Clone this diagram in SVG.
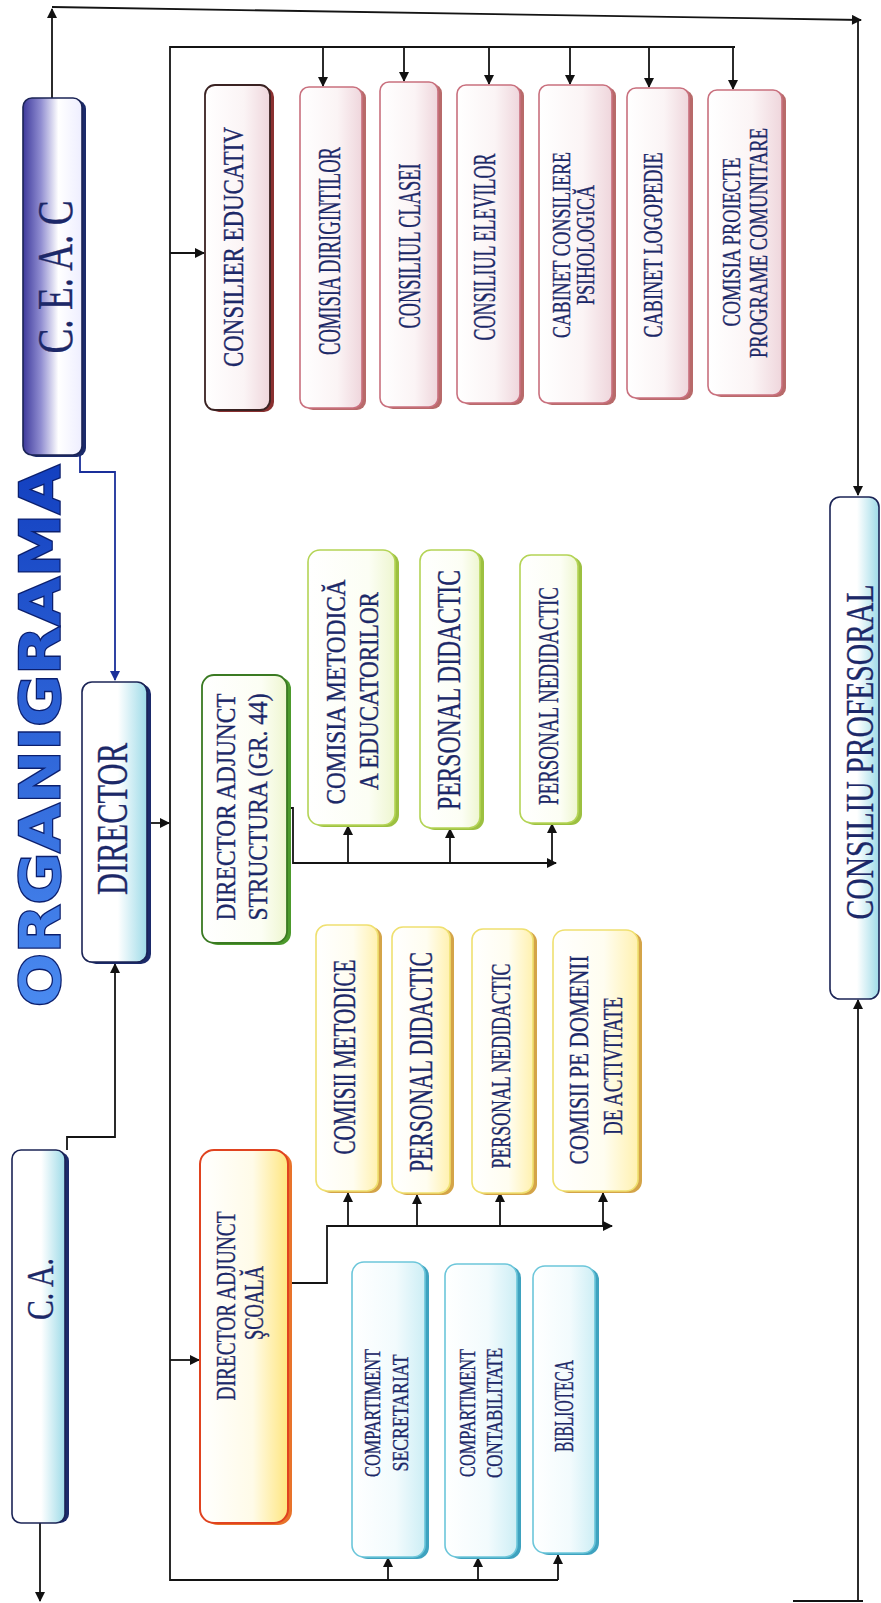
<svg xmlns="http://www.w3.org/2000/svg" width="881" height="1603" viewBox="0 0 881 1603">
<defs>
  <marker id="ah" viewBox="0 0 10 10" refX="9" refY="5" markerWidth="11" markerHeight="10" markerUnits="userSpaceOnUse" orient="auto-start-reverse">
    <path d="M0,0 L10,5 L0,10 z" fill="#111"/>
  </marker>
  <marker id="ahb" viewBox="0 0 10 10" refX="9" refY="5" markerWidth="11" markerHeight="10" markerUnits="userSpaceOnUse" orient="auto-start-reverse">
    <path d="M0,0 L10,5 L0,10 z" fill="#1a2f9a"/>
  </marker>
  <linearGradient id="gPurple" x1="0" y1="0" x2="1" y2="0">
    <stop offset="0" stop-color="#3e3a9c"/>
    <stop offset="0.3" stop-color="#8f8cd0"/>
    <stop offset="0.6" stop-color="#ffffff"/>
    <stop offset="1" stop-color="#eeeeff"/>
  </linearGradient>
  <linearGradient id="gCyan" x1="0" y1="0" x2="1" y2="0">
    <stop offset="0" stop-color="#ffffff"/>
    <stop offset="0.55" stop-color="#ffffff"/>
    <stop offset="1" stop-color="#9edbe8"/>
  </linearGradient>
  <linearGradient id="gPink" x1="0" y1="0" x2="1" y2="0">
    <stop offset="0" stop-color="#ffffff"/>
    <stop offset="0.6" stop-color="#fbf4f5"/>
    <stop offset="1" stop-color="#efd6dc"/>
  </linearGradient>
  <linearGradient id="gGreen" x1="0" y1="0" x2="1" y2="0">
    <stop offset="0" stop-color="#ffffff"/>
    <stop offset="0.7" stop-color="#fcfef4"/>
    <stop offset="1" stop-color="#eef6d0"/>
  </linearGradient>
  <linearGradient id="gYellow" x1="0" y1="0" x2="1" y2="0">
    <stop offset="0" stop-color="#ffffff"/>
    <stop offset="0.6" stop-color="#fffdf0"/>
    <stop offset="1" stop-color="#fff1b0"/>
  </linearGradient>
  <linearGradient id="gOrange" x1="0" y1="0" x2="1" y2="0">
    <stop offset="0" stop-color="#ffffff"/>
    <stop offset="0.6" stop-color="#fffbe8"/>
    <stop offset="1" stop-color="#ffe680"/>
  </linearGradient>
  <linearGradient id="gAqua" x1="0" y1="0" x2="1" y2="0">
    <stop offset="0" stop-color="#ffffff"/>
    <stop offset="0.6" stop-color="#f2fbfd"/>
    <stop offset="1" stop-color="#cdeef5"/>
  </linearGradient>
  <linearGradient id="gTitle" x1="0" y1="0" x2="1" y2="0">
    <stop offset="0" stop-color="#4a8af0"/>
    <stop offset="1" stop-color="#1340c0"/>
  </linearGradient>
</defs>
<style>
  .t { font-family: "Liberation Serif", "Times New Roman", serif; fill: #1c2868; stroke: #1c2868; stroke-width: 0.35; text-anchor: middle; }
  .sh { stroke: none; }
  .navy { stroke: #1b2456; stroke-width: 1.6; }
  .sh-navy { fill: #1b2a6a; }
  .ceac { fill: url(#gPurple); }
  .cyan { fill: url(#gCyan); }
  .pink { fill: url(#gPink); stroke: #c9707e; stroke-width: 1.6; }
  .sh-pink { fill: #b86a6a; }
  .edu { fill: url(#gPink); stroke: #3a2222; stroke-width: 1.8; }
  .sh-edu { fill: #8a3030; }
  .dgreen { fill: url(#gGreen); stroke: #3a7a22; stroke-width: 1.8; }
  .sh-dgreen { fill: #4c9a2c; }
  .lgreen { fill: url(#gGreen); stroke: #b4d456; stroke-width: 1.6; }
  .sh-lgreen { fill: #9cc040; }
  .orange { fill: url(#gOrange); stroke: #e0431f; stroke-width: 2; }
  .sh-orange { fill: #e8732a; }
  .yellow { fill: url(#gYellow); stroke: #efe070; stroke-width: 1.6; }
  .sh-yellow { fill: #d4a448; }
  .aqua { fill: url(#gAqua); stroke: #6cc6da; stroke-width: 1.6; }
  .sh-aqua { fill: #3ea2bf; }
  .title { font-family: "DejaVu Sans", "Liberation Sans", sans-serif; font-weight: bold; fill: url(#gTitle); stroke: #0b1f6e; stroke-width: 2.5; paint-order: stroke; text-anchor: middle; }
  .ln { fill: none; stroke: #141414; stroke-width: 1.8; }
  .lnb { fill: none; stroke: #1a2f9a; stroke-width: 1.8; }
</style>
<rect width="881" height="1603" fill="#ffffff"/>

<g id="title">
  <text class="title" transform="translate(59,736) rotate(-90)" font-size="56" textLength="542" lengthAdjust="spacingAndGlyphs">ORGANIGRAMA</text>
</g>

<g id="connectors">
  <path class="ln" d="M52,98 V9" marker-end="url(#ah)"/>
  <path class="ln" d="M52,7 L861,20" marker-end="url(#ah)"/>
  <path class="ln" d="M858,20 V495" marker-end="url(#ah)"/>
  <path class="ln" d="M735,47 H170 V1580 H558"/>
  <path class="ln" d="M323,47 V86" marker-end="url(#ah)"/>
  <path class="ln" d="M404,47 V81" marker-end="url(#ah)"/>
  <path class="ln" d="M489,47 V84" marker-end="url(#ah)"/>
  <path class="ln" d="M570,47 V84" marker-end="url(#ah)"/>
  <path class="ln" d="M649,47 V87" marker-end="url(#ah)"/>
  <path class="ln" d="M733,47 V89" marker-end="url(#ah)"/>
  <path class="ln" d="M170,253 H204" marker-end="url(#ah)"/>
  <path class="ln" d="M147,823 H169" marker-end="url(#ah)"/>
  <path class="ln" d="M280,808 H293 V863 H556" marker-end="url(#ah)"/>
  <path class="ln" d="M348,863 V826" marker-end="url(#ah)"/>
  <path class="ln" d="M450,863 V829" marker-end="url(#ah)"/>
  <path class="ln" d="M552,863 V824" marker-end="url(#ah)"/>
  <path class="ln" d="M170,1360 H199" marker-end="url(#ah)"/>
  <path class="ln" d="M290,1283 H327 V1226 H612" marker-end="url(#ah)"/>
  <path class="ln" d="M348,1226 V1193" marker-end="url(#ah)"/>
  <path class="ln" d="M417,1226 V1195" marker-end="url(#ah)"/>
  <path class="ln" d="M500,1226 V1193" marker-end="url(#ah)"/>
  <path class="ln" d="M603,1226 V1193" marker-end="url(#ah)"/>
  <path class="ln" d="M388,1580 V1558" marker-end="url(#ah)"/>
  <path class="ln" d="M478,1580 V1558" marker-end="url(#ah)"/>
  <path class="ln" d="M558,1580 V1555" marker-end="url(#ah)"/>
  <path class="ln" d="M67,1150 V1137 H115 V964" marker-end="url(#ah)"/>
  <path class="ln" d="M40,1523 V1601" marker-end="url(#ah)"/>
  <path class="ln" d="M858,1601 V1000" marker-end="url(#ah)"/>
  <path class="ln" d="M793,1601 H863"/>
  <path class="lnb" d="M80,263 V472 H115 V680" marker-start="url(#ahb)" marker-end="url(#ahb)"/>
</g>

<g id="ceac">
  <rect class="sh sh-navy" x="27" y="100" width="59" height="357" rx="9"/>
  <rect class="ceac navy" x="23" y="98" width="59" height="357" rx="9"/>
  <text class="t" transform="translate(72,277) rotate(-90)" font-size="50" textLength="153" lengthAdjust="spacingAndGlyphs">C. E. A. C</text>
</g>

<g id="director">
  <rect class="sh sh-navy" x="86" y="684" width="65" height="280" rx="10"/>
  <rect class="cyan navy" x="82" y="682" width="65" height="280" rx="10"/>
  <text class="t" transform="translate(127,819) rotate(-90)" font-size="44" textLength="152" lengthAdjust="spacingAndGlyphs">DIRECTOR</text>
</g>

<g id="ca">
  <rect class="sh sh-navy" x="16" y="1152" width="53" height="371" rx="9"/>
  <rect class="cyan navy" x="12" y="1150" width="53" height="373" rx="9"/>
  <text class="t" transform="translate(53,1289) rotate(-90)" font-size="38" textLength="62" lengthAdjust="spacingAndGlyphs">C. A.</text>
</g>

<g id="consiliu-profesoral">
  <rect class="cyan navy" x="830" y="497" width="49" height="502" rx="10"/>
  <text class="t" transform="translate(873,752) rotate(-90)" font-size="40" textLength="335" lengthAdjust="spacingAndGlyphs">CONSILIU PROFESORAL</text>
</g>

<g id="consilier-educativ">
  <rect class="sh sh-edu" x="209" y="87" width="65" height="325" rx="10"/>
  <rect class="edu" x="205" y="85" width="65" height="325" rx="10"/>
  <text class="t" transform="translate(243,247) rotate(-90)" font-size="30" textLength="240" lengthAdjust="spacingAndGlyphs">CONSILIER EDUCATIV</text>
</g>

<g id="comisia-dirigintilor">
  <rect class="sh sh-pink" x="304" y="89" width="62" height="321" rx="9"/>
  <rect class="pink" x="300" y="87" width="62" height="321" rx="9"/>
  <text class="t" transform="translate(340,251) rotate(-90)" font-size="32" textLength="208" lengthAdjust="spacingAndGlyphs">COMISIA DIRIGINTILOR</text>
</g>

<g id="consiliul-clasei">
  <rect class="sh sh-pink" x="384" y="84" width="58" height="325" rx="9"/>
  <rect class="pink" x="380" y="82" width="58" height="325" rx="9"/>
  <text class="t" transform="translate(420,246) rotate(-90)" font-size="32" textLength="165" lengthAdjust="spacingAndGlyphs">CONSILIUL CLASEI</text>
</g>

<g id="consiliul-elevilor">
  <rect class="sh sh-pink" x="461" y="87" width="63" height="318" rx="9"/>
  <rect class="pink" x="457" y="85" width="63" height="318" rx="9"/>
  <text class="t" transform="translate(495,247) rotate(-90)" font-size="32" textLength="187" lengthAdjust="spacingAndGlyphs">CONSILIUL ELEVILOR</text>
</g>

<g id="cabinet-consiliere">
  <rect class="sh sh-pink" x="543" y="87" width="73" height="318" rx="9"/>
  <rect class="pink" x="539" y="85" width="73" height="318" rx="9"/>
  <text class="t" transform="translate(570,245) rotate(-90)" font-size="25" textLength="186" lengthAdjust="spacingAndGlyphs">CABINET CONSILIERE</text>
  <text class="t" transform="translate(594,245) rotate(-90)" font-size="25" textLength="120" lengthAdjust="spacingAndGlyphs">PSIHOLOGICĂ</text>
</g>

<g id="cabinet-logopedie">
  <rect class="sh sh-pink" x="631" y="90" width="62" height="310" rx="9"/>
  <rect class="pink" x="627" y="88" width="62" height="310" rx="9"/>
  <text class="t" transform="translate(662,245) rotate(-90)" font-size="27" textLength="185" lengthAdjust="spacingAndGlyphs">CABINET LOGOPEDIE</text>
</g>

<g id="comisia-proiecte">
  <rect class="sh sh-pink" x="712" y="92" width="74" height="305" rx="9"/>
  <rect class="pink" x="708" y="90" width="74" height="305" rx="9"/>
  <text class="t" transform="translate(740,242) rotate(-90)" font-size="25" textLength="169" lengthAdjust="spacingAndGlyphs">COMISIA PROIECTE</text>
  <text class="t" transform="translate(767,243) rotate(-90)" font-size="25" textLength="230" lengthAdjust="spacingAndGlyphs">PROGRAME COMUNITARE</text>
</g>

<g id="dir-adj-structura">
  <rect class="sh sh-dgreen" x="206" y="677" width="85" height="268" rx="12"/>
  <rect class="dgreen" x="202" y="675" width="85" height="268" rx="12"/>
  <text class="t" transform="translate(235,807) rotate(-90)" font-size="27" textLength="227" lengthAdjust="spacingAndGlyphs">DIRECTOR ADJUNCT</text>
  <text class="t" transform="translate(267,807) rotate(-90)" font-size="27" textLength="227" lengthAdjust="spacingAndGlyphs">STRUCTURA (GR. 44)</text>
</g>

<g id="comisia-metodica">
  <rect class="sh sh-lgreen" x="312" y="552" width="87" height="275" rx="12"/>
  <rect class="lgreen" x="308" y="550" width="87" height="275" rx="12"/>
  <text class="t" transform="translate(345,692) rotate(-90)" font-size="27" textLength="225" lengthAdjust="spacingAndGlyphs">COMISIA METODICĂ</text>
  <text class="t" transform="translate(378,691) rotate(-90)" font-size="27" textLength="198" lengthAdjust="spacingAndGlyphs">A EDUCATORILOR</text>
</g>

<g id="personal-didactic-g">
  <rect class="sh sh-lgreen" x="424" y="552" width="60" height="278" rx="11"/>
  <rect class="lgreen" x="420" y="550" width="60" height="278" rx="11"/>
  <text class="t" transform="translate(460,690) rotate(-90)" font-size="33" textLength="240" lengthAdjust="spacingAndGlyphs">PERSONAL DIDACTIC</text>
</g>

<g id="personal-nedidactic-g">
  <rect class="sh sh-lgreen" x="524" y="557" width="58" height="268" rx="11"/>
  <rect class="lgreen" x="520" y="555" width="58" height="268" rx="11"/>
  <text class="t" transform="translate(558,696) rotate(-90)" font-size="29" textLength="218" lengthAdjust="spacingAndGlyphs">PERSONAL NEDIDACTIC</text>
</g>

<g id="dir-adj-scoala">
  <rect class="sh sh-orange" x="204" y="1152" width="88" height="373" rx="14"/>
  <rect class="orange" x="200" y="1150" width="88" height="373" rx="14"/>
  <text class="t" transform="translate(235,1306) rotate(-90)" font-size="27" textLength="189" lengthAdjust="spacingAndGlyphs">DIRECTOR ADJUNCT</text>
  <text class="t" transform="translate(263,1303) rotate(-90)" font-size="27" textLength="74" lengthAdjust="spacingAndGlyphs">ŞCOALĂ</text>
</g>

<g id="comisii-metodice">
  <rect class="sh sh-yellow" x="320" y="927" width="62" height="266" rx="11"/>
  <rect class="yellow" x="316" y="925" width="62" height="266" rx="11"/>
  <text class="t" transform="translate(355,1057) rotate(-90)" font-size="31" textLength="195" lengthAdjust="spacingAndGlyphs">COMISII METODICE</text>
</g>

<g id="personal-didactic-y">
  <rect class="sh sh-yellow" x="396" y="929" width="58" height="266" rx="11"/>
  <rect class="yellow" x="392" y="927" width="58" height="266" rx="11"/>
  <text class="t" transform="translate(432,1062) rotate(-90)" font-size="33" textLength="220" lengthAdjust="spacingAndGlyphs">PERSONAL DIDACTIC</text>
</g>

<g id="personal-nedidactic-y">
  <rect class="sh sh-yellow" x="476" y="931" width="61" height="264" rx="11"/>
  <rect class="yellow" x="472" y="929" width="61" height="264" rx="11"/>
  <text class="t" transform="translate(510,1066) rotate(-90)" font-size="27" textLength="205" lengthAdjust="spacingAndGlyphs">PERSONAL NEDIDACTIC</text>
</g>

<g id="comisii-domenii">
  <rect class="sh sh-yellow" x="557" y="932" width="85" height="261" rx="12"/>
  <rect class="yellow" x="553" y="930" width="85" height="261" rx="12"/>
  <text class="t" transform="translate(588,1060) rotate(-90)" font-size="28" textLength="209" lengthAdjust="spacingAndGlyphs">COMISII PE DOMENII</text>
  <text class="t" transform="translate(622,1066) rotate(-90)" font-size="28" textLength="138" lengthAdjust="spacingAndGlyphs">DE ACTIVITATE</text>
</g>

<g id="compartiment-secretariat">
  <rect class="sh sh-aqua" x="356" y="1264" width="73" height="295" rx="12"/>
  <rect class="aqua" x="352" y="1262" width="73" height="295" rx="12"/>
  <text class="t" transform="translate(380,1413) rotate(-90)" font-size="23" textLength="128" lengthAdjust="spacingAndGlyphs">COMPARTIMENT</text>
  <text class="t" transform="translate(408,1413) rotate(-90)" font-size="23" textLength="117" lengthAdjust="spacingAndGlyphs">SECRETARIAT</text>
</g>

<g id="compartiment-contabilitate">
  <rect class="sh sh-aqua" x="449" y="1266" width="72" height="293" rx="12"/>
  <rect class="aqua" x="445" y="1264" width="72" height="293" rx="12"/>
  <text class="t" transform="translate(475,1413) rotate(-90)" font-size="23" textLength="128" lengthAdjust="spacingAndGlyphs">COMPARTIMENT</text>
  <text class="t" transform="translate(502,1413) rotate(-90)" font-size="23" textLength="130" lengthAdjust="spacingAndGlyphs">CONTABILITATE</text>
</g>

<g id="biblioteca">
  <rect class="sh sh-aqua" x="537" y="1268" width="62" height="287" rx="12"/>
  <rect class="aqua" x="533" y="1266" width="62" height="287" rx="12"/>
  <text class="t" transform="translate(573,1406) rotate(-90)" font-size="28" textLength="92" lengthAdjust="spacingAndGlyphs">BIBLIOTECA</text>
</g>
</svg>
